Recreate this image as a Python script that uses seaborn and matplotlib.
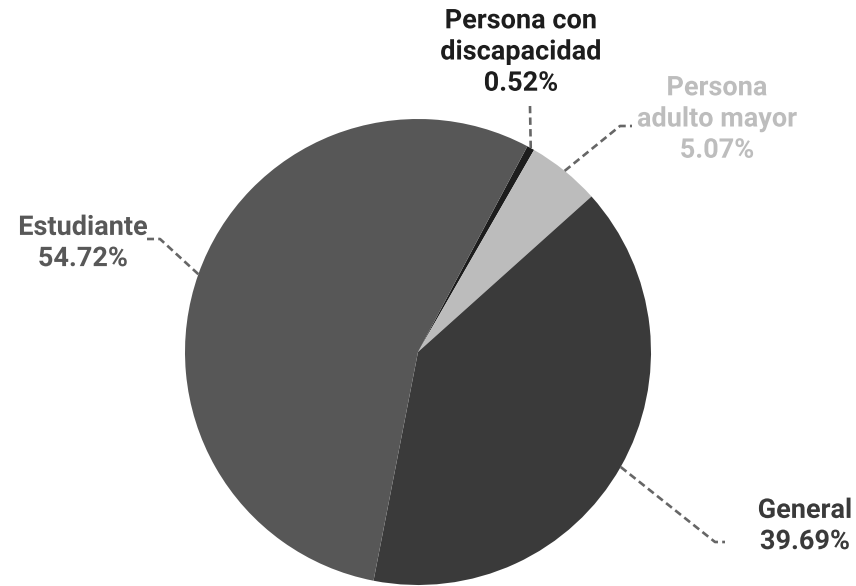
import numpy as np
import matplotlib
matplotlib.use("Agg")
import matplotlib.pyplot as plt
import matplotlib.patheffects as pe
import seaborn as sns

# Share of trips by fare type
categories = ["Persona con\ndiscapacidad", "Persona\nadulto mayor", "General", "Estudiante"]
shares = [0.52, 5.07, 39.69, 54.72]
colors = ["#1d1d1d", "#bcbcbc", "#3a3a3a", "#575757"]
text_colors = ["#1d1d1d", "#bdbdbd", "#3a3a3a", "#585858"]

sns.set_theme(style="white")
plt.rcParams["font.family"] = ["Roboto", "DejaVu Sans"]

W, H = 856, 586
fig = plt.figure(figsize=(W / 100, H / 100), dpi=100)
cx, cy, r = 418, 352, 233
ax = fig.add_axes([(cx - r) / W, (H - cy - r) / H, 2 * r / W, 2 * r / H])

start = 62.0
wedges, _ = ax.pie(shares, colors=colors, startangle=start, counterclock=False,
                   radius=1.0, wedgeprops=dict(linewidth=0))
ax.set_xlim(-1, 1)
ax.set_ylim(-1, 1)
ax.set_aspect("equal")
ax.axis("off")


def px(x, y):
    """Pixel position -> pie data coordinates."""
    return (x - cx) / r, (cy - y) / r


# elbow, end of leader, label centre
layout = [
    (px(530, 106), px(530, 106), px(521, 52)),
    (px(620, 126), px(632, 126), px(717, 119)),
    (px(715, 542), px(725, 542), px(805, 526)),
    (px(160, 239), px(147, 239), px(83, 243)),
]

for w, name, val, tc, (elbow, end, lab) in zip(wedges, categories, shares, text_colors, layout):
    mid = np.deg2rad((w.theta1 + w.theta2) / 2)
    sx, sy = np.cos(mid), np.sin(mid)
    ax.plot([sx, elbow[0], end[0]], [sy, elbow[1], end[1]], color="#666666",
            lw=1.9, ls=(0, (2.8, 1.6)), solid_capstyle="butt", clip_on=False)
    ax.text(lab[0], lab[1], f"{name}\n{val:.2f}%", ha="center", va="center",
            fontsize=19.5, fontweight="bold", color=tc, linespacing=1.2,
            path_effects=[pe.withStroke(linewidth=2, foreground="white")])

fig.savefig("out.png", dpi=100, facecolor="white")
